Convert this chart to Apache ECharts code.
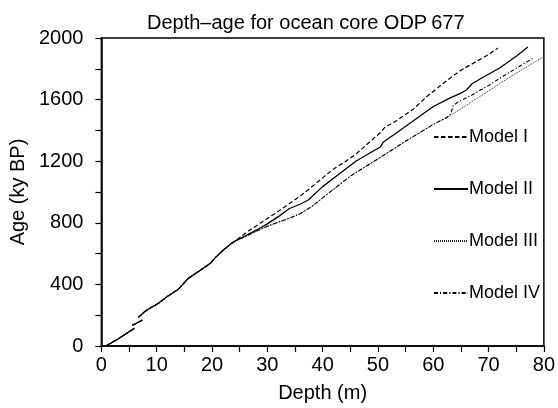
<!DOCTYPE html>
<html>
<head>
<meta charset="utf-8">
<script src="https://cdn.jsdelivr.net/npm/echarts@6/dist/echarts.min.js"></script>
<style>
html,body{margin:0;padding:0;background:#fff;}
#chart{width:558px;height:408px;}
</style>
</head>
<body>
<div id="chart"></div>
<script>
// Depth (m), Age (ky BP) pairs; '-' marks a gap in the record
var sharedTop = [[0.8,0],[3,45],[6,116],['-','-'],[5.6,135],[7.4,168],['-','-'],
  [6.7,186],[7.9,225],[9,250],[10.3,277],[11.9,321],[13.9,368],[15.7,439],[17.9,492],
  [19.7,537],[20.6,574],[22,622],[23.5,666],[24.3,684]];
var modelI = [[26,732],[28,780],[30,828],[32,875],[34,925],[36,975],[38,1032],[40.1,1095],
  [42,1150],[44,1195],[46,1245],[48.5,1325],[50.4,1385],[51.2,1418],[53,1455],[56.3,1535],
  [59,1625],[62.5,1725],[65,1790],[68,1852],[70,1893],[71.7,1935]];
var modelII = [[25.6,708],[28,752],[30,793],[32,840],[34,893],[36,922],[37.4,948],[40,1035],[43.1,1120],
  [46,1200],[50.4,1292],[51,1325],[53,1375],[56.3,1460],[60,1555],[63,1610],[65,1642],[66,1662],
  [67,1703],[69,1745],[72,1805],[75,1882],[77.1,1942]];
var modelIII = [[26,710],[28,745],[30,778],[32,804],[34,830],[36,860],[38,905],[40,962],
  [45,1103],[50,1215],[55,1330],[60,1439],[62.5,1484],[65,1540],[68,1610],[71,1680],
  [74,1750],[77,1815],[80,1880]];
var modelIV = [[26,710],[28,745],[30,778],[32,804],[34,830],[36,860],[38,905],[40,962],
  [45,1103],[50,1215],[55,1330],[60,1439],[62.5,1485],[63.2,1510],[63.6,1560],[64.5,1585],
  [67,1630],[70,1692],[73,1760],[76,1825],[78,1868]];
var seriesNames = ['Model I','Model II','Model III','Model IV'];
var xTicks = [0,10,20,30,40,50,60,70,80];
var yTicks = [0,400,800,1200,1600,2000];

var font = 'Liberation Sans, Arial, Helvetica, sans-serif';
var chart = echarts.init(document.getElementById('chart'), null, {renderer:'canvas'});
function mk(name, own, style, width, color){
  return {
    name: name, type: 'line', data: sharedTop.concat(own), symbol: 'none',
    connectNulls: false, animation: false, z: name === 'Model II' ? 5 : 3,
    lineStyle: {color: color, width: width, type: style},
    itemStyle: {color: color}
  };
}
chart.setOption({
  backgroundColor: '#fff',
  animation: false,
  title: {
    text: 'Depth\u2013age for ocean core ODP\u2009677',
    left: 142, top: 8,
    textStyle: {fontFamily: font, fontSize: 20, fontWeight: 'normal', color: '#000'}
  },
  grid: {left: 101, right: 14, top: 38, bottom: 61, show: true, borderColor: '#000', borderWidth: 1.5},
  legend: {
    orient: 'vertical', left: 433, top: 128,
    itemWidth: 34, itemHeight: 18, itemGap: 34, padding: 0,
    data: seriesNames,
    itemStyle: {opacity: 0},
    textStyle: {fontFamily: font, fontSize: 18, color: '#000', padding: [0,0,0,-4]}
  },
  xAxis: {
    type: 'value', min: xTicks[0], max: xTicks[xTicks.length-1], interval: 10,
    name: 'Depth (m)', nameLocation: 'middle', nameGap: 37,
    nameTextStyle: {fontFamily: font, fontSize: 20, color: '#000'},
    axisLine: {lineStyle: {color: '#000', width: 1.5}},
    axisTick: {show: true, inside: false, length: 6, lineStyle: {color: '#000', width: 1.2}},
    minorTick: {show: true, splitNumber: 2, length: 6, lineStyle: {color: '#000', width: 1.2}},
    splitLine: {show: false},
    axisLabel: {fontFamily: font, fontSize: 20, color: '#000', margin: 9}
  },
  yAxis: {
    type: 'value', min: yTicks[0], max: yTicks[yTicks.length-1], interval: 400,
    name: 'Age (ky BP)', nameLocation: 'middle', nameGap: 72, nameRotate: 90,
    nameTextStyle: {fontFamily: font, fontSize: 20, color: '#000'},
    axisLine: {show: true, lineStyle: {color: '#000', width: 1.5}},
    axisTick: {show: true, inside: false, length: 6, lineStyle: {color: '#000', width: 1.2}},
    minorTick: {show: true, splitNumber: 2, length: 6, lineStyle: {color: '#000', width: 1.2}},
    splitLine: {show: false},
    axisLabel: {fontFamily: font, fontSize: 20, color: '#000', margin: 18,
      formatter: function(v){ return String(v); }}
  },
  series: [
    mk('Model I', modelI, [4.5,2.5], 1.2, '#000'),
    mk('Model II', modelII, 'solid', 1.3, '#000'),
    mk('Model III', modelIII, [1,1], 1, '#222'),
    mk('Model IV', modelIV, [4,2,1.2,2], 1.1, '#000')
  ]
});
</script>
</body>
</html>
